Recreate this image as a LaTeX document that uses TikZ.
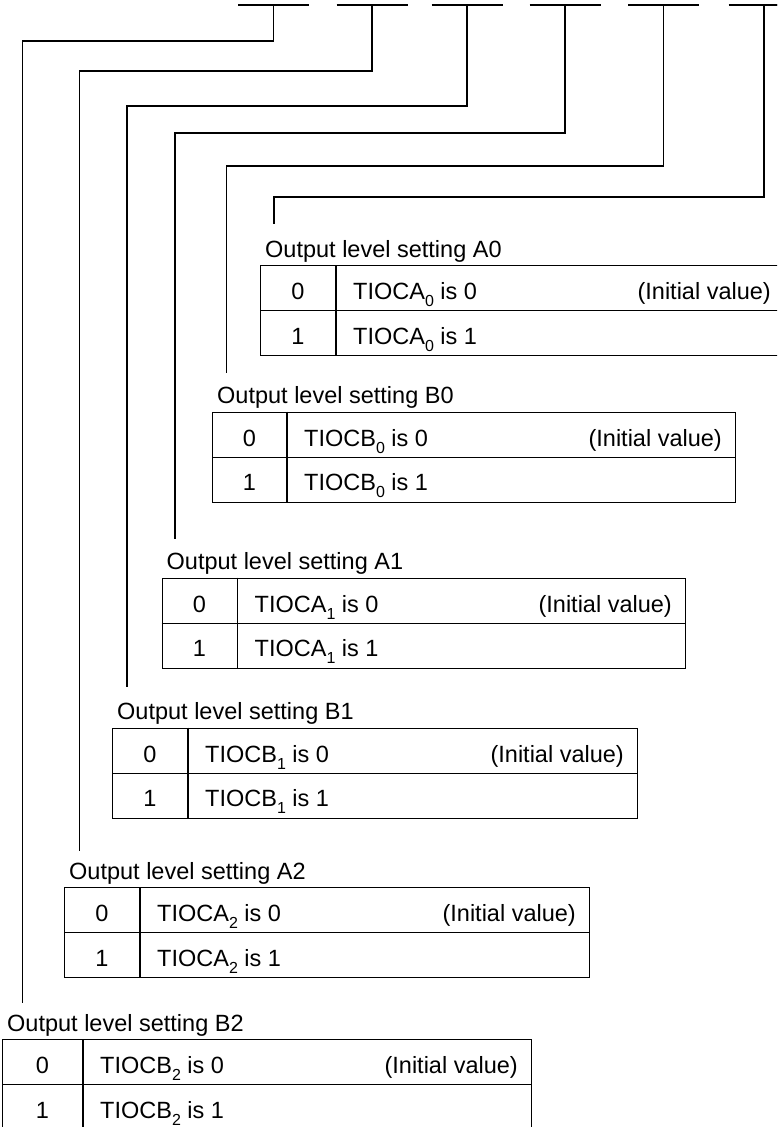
\documentclass[tikz,border=0pt]{standalone}
\usepackage{fontspec}
\setmainfont{Liberation Sans}
\newcommand\sbs[1]{\raisebox{-0.3em}{\fontsize{16}{16}\selectfont #1}}
\tikzset{
  wire/.style={line width=1.3pt, line join=miter},
  tbl/.style={draw, line width=1.3pt, minimum height=90pt, inner sep=0pt, anchor=north west},
  txt/.style={inner sep=0pt, font=\fontsize{23.5}{26}\selectfont},
}
% #1 name, #2 left, #3 top, #4 label, #5 signal, #6 subscript, #7 divider offset, #8 width
\newcommand\regtab[8]{%
  \node[txt, anchor=base west] (#1lbl) at (#2+5,#3-8) {Output level setting #4};
  \node[tbl, minimum width=#8pt] (#1) at (#2,#3) {};
  \draw[wire] (#1.west) -- (#1.east);
  \draw[wire] (#2+#7,#3) -- (#2+#7,#3+90);
  \node[txt, anchor=base] (#1z) at (#2+#7/2,#3+34.5) {0};
  \node[txt, anchor=base] (#1o) at (#2+#7/2,#3+79) {1};
  \node[txt, anchor=base west] (#1zt) at (#2+#7+17,#3+34.5) {#5\sbs{#6} is 0};
  \node[txt, anchor=base west] (#1ot) at (#2+#7+17,#3+79) {#5\sbs{#6} is 1};
  \node[txt, anchor=base east] (#1iv) at (#2+#8-13,#3+34.5) {(Initial value)};
}
\begin{document}
\begin{tikzpicture}[x=1pt,y=-1pt]
\useasboundingbox (0,0) rectangle (777,1127);
\clip (0,0) rectangle (777,1127);
% bus segments
\foreach \c/\n in {273.5/b1,372/b2,467/b3,565/b4,663.5/b5,764/b6}{
  \coordinate (\n) at (\c,5);
  \draw[wire] (\c-35.5,5) -- (\c+35.5,5);
}
\draw[wire] (764,5) -- (790,5);
% tables
\regtab{A0}{260}{265}{A0}{TIOCA}{0}{76}{524}
\regtab{B0}{212}{411.5}{B0}{TIOCB}{0}{75}{523}
\regtab{A1}{161.5}{577.5}{A1}{TIOCA}{1}{76}{523.5}
\regtab{B1}{112}{727.5}{B1}{TIOCB}{1}{76}{525}
\regtab{A2}{64}{887}{A2}{TIOCA}{2}{76}{525}
\regtab{B2}{2}{1039}{B2}{TIOCB}{2}{81}{529}
% connector ends
\coordinate (eA0) at (274,224);
\coordinate (eB0) at (226.5,373);
\coordinate (eA1) at (175,539);
\coordinate (eB1) at (127,687);
\coordinate (eA2) at (79.5,851);
\coordinate (eB2) at (22.5,1003);
\draw[wire] (b1) |- (22.5,41) -- (eB2);
\draw[wire] (b2) |- (79.5,71) -- (eA2);
\draw[wire] (b3) |- (127,106) -- (eB1);
\draw[wire] (b4) |- (175,133) -- (eA1);
\draw[wire] (b5) |- (226.5,166) -- (eB0);
\draw[wire] (b6) |- (274,197) -- (eA0);
\end{tikzpicture}
\end{document}
